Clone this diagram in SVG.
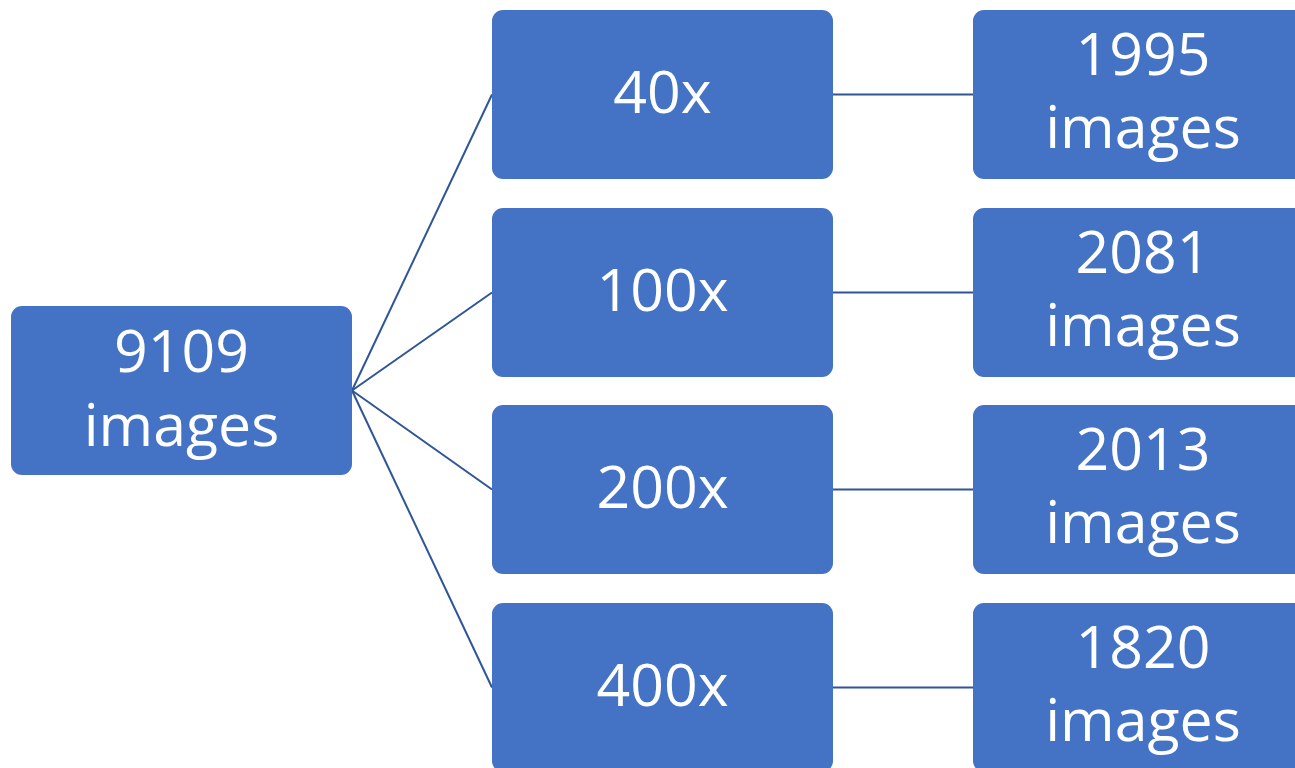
<svg xmlns="http://www.w3.org/2000/svg" width="1295" height="768" viewBox="0 0 1295 768">
<style>
.box{fill:#4472C4}
.t{font-family:"Open Sans","Noto Sans",sans-serif;font-size:59px;fill:#fff;text-anchor:middle}
.c{stroke:#2F5597;stroke-width:2;fill:none}
</style>
<rect width="1295" height="768" fill="#fff"/>
<g id="connectors">
<line class="c" x1="352" y1="390.5" x2="492" y2="94.5"/>
<line class="c" x1="352" y1="390.5" x2="492" y2="292.5"/>
<line class="c" x1="352" y1="390.5" x2="492" y2="489.5"/>
<line class="c" x1="352" y1="390.5" x2="492" y2="687.5"/>
<line class="c" x1="833" y1="94.5" x2="973" y2="94.5"/>
<line class="c" x1="833" y1="292.5" x2="973" y2="292.5"/>
<line class="c" x1="833" y1="489.5" x2="973" y2="489.5"/>
<line class="c" x1="833" y1="687.5" x2="973" y2="687.5"/>
</g>
<g id="root">
<rect class="box" x="11" y="306" width="341" height="169" rx="11"/>
<text class="t" x="181.5" y="372">9109</text>
<text class="t" x="181.5" y="446">images</text>
</g>
<g id="m40">
<rect class="box" x="492" y="10" width="341" height="169" rx="11"/>
<text class="t" x="662.5" y="113">40x</text>
</g>
<g id="m100">
<rect class="box" x="492" y="208" width="341" height="169" rx="11"/>
<text class="t" x="662.5" y="311">100x</text>
</g>
<g id="m200">
<rect class="box" x="492" y="405" width="341" height="169" rx="11"/>
<text class="t" x="662.5" y="508">200x</text>
</g>
<g id="m400">
<rect class="box" x="492" y="603" width="341" height="169" rx="11"/>
<text class="t" x="662.5" y="706">400x</text>
</g>
<g id="r1995">
<rect class="box" x="973" y="10" width="341" height="169" rx="11"/>
<text class="t" x="1143" y="75">1995</text>
<text class="t" x="1143" y="148">images</text>
</g>
<g id="r2081">
<rect class="box" x="973" y="208" width="341" height="169" rx="11"/>
<text class="t" x="1143" y="273">2081</text>
<text class="t" x="1143" y="346">images</text>
</g>
<g id="r2013">
<rect class="box" x="973" y="405" width="341" height="169" rx="11"/>
<text class="t" x="1143" y="470">2013</text>
<text class="t" x="1143" y="543">images</text>
</g>
<g id="r1820">
<rect class="box" x="973" y="603" width="341" height="169" rx="11"/>
<text class="t" x="1143" y="668">1820</text>
<text class="t" x="1143" y="741">images</text>
</g>
</svg>
